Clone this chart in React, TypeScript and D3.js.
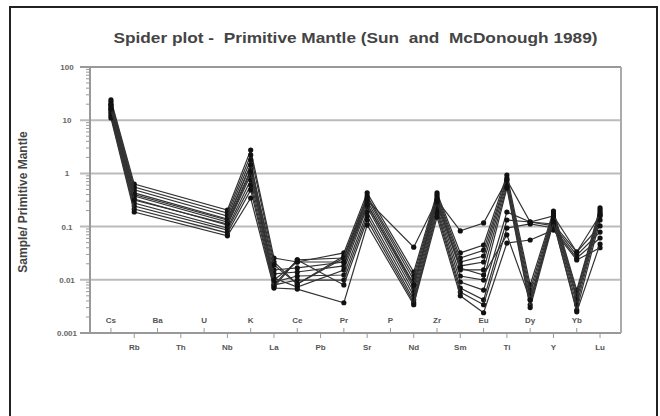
import React from 'react';
import * as d3 from 'd3';

// element order of the primitive mantle spider diagram
const elements = ['Cs', 'Rb', 'Ba', 'Th', 'U', 'Nb', 'K', 'La', 'Ce', 'Pb', 'Pr', 'Sr', 'P', 'Nd', 'Zr', 'Sm', 'Eu', 'Ti', 'Dy', 'Y', 'Yb', 'Lu'];

const yTicks = [100, 10, 1, 0.1, 0.01, 0.001];
const yTickLabels = ['100', '10', '1', '0.1', '0.01', '0.001'];

// sample / primitive mantle, null where not analysed
//                 Cs    Rb    Ba    Th    U     Nb     K     La      Ce      Pb    Pr      Sr     P     Nd      Zr     Sm      Eu      Ti     Dy      Y      Yb      Lu
const sample1 = [24, 0.63, null, null, null, 0.205, 2.75, 0.0257, 0.0216, null, 0.032, 0.43, null, 0.014, 0.43, 0.032, 0.045, 0.93, 0.008, 0.196, 0.0064, 0.224];
const sample2 = [22, 0.555, null, null, null, 0.18, 2.22, 0.0216, 0.0083, null, 0.028, 0.376, null, 0.0118, 0.393, 0.0257, 0.036, 0.82, 0.0064, 0.18, 0.0057, 0.205];
const sample3 = [20, 0.49, null, null, null, 0.158, 1.79, 0.008, 0.0236, null, 0.0257, 0.345, null, 0.0099, 0.36, 0.0216, 0.028, 0.75, 0.0052, 0.165, 0.0048, 0.188];
const sample4 = [18.5, 0.43, null, null, null, 0.139, 1.44, 0.0153, 0.0167, null, 0.0216, 0.303, null, 0.0083, 0.33, 0.0182, 0.0216, 0.66, 0.0042, 0.151, 0.0042, 0.173];
const sample5 = [16.9, 0.376, null, null, null, 0.122, 1.16, 0.0129, 0.014, null, 0.0182, 0.266, null, 0.007, 0.303, 0.0153, 0.0153, 0.58, 0.0034, 0.139, 0.0034, 0.158];
const sample6 = [15.6, 0.33, null, null, null, 0.107, 0.93, 0.0108, 0.0073, null, 0.0153, 0.233, null, 0.0059, 0.266, 0.0118, 0.0099, 0.53, 0.003, 0.122, 0.0027, 0.133];
const sample7 = [14.3, 0.278, null, null, null, 0.094, 0.75, 0.0091, 0.0118, null, 0.0123, 0.188, null, 0.005, 0.233, 0.0091, 0.0064, 0.188, 0.122, 0.112, 0.0333, 0.103];
const sample8 = [13.1, 0.244, null, null, null, 0.086, 0.6, 0.008, 0.0099, null, 0.0099, 0.158, null, 0.0042, 0.205, 0.007, 0.0042, 0.133, 0.122, 0.103, 0.029, 0.079];
const sample9 = [12, 0.214, null, null, null, 0.076, 0.49, 0.0073, 0.0236, null, 0.008, 0.133, null, 0.0037, 0.18, 0.0059, 0.0034, 0.094, 0.112, 0.094, 0.0257, 0.061];
const sample10 = [11, 0.188, null, null, null, 0.067, 0.345, 0.007, 0.0067, null, 0.0037, 0.107, null, 0.0034, 0.151, 0.005, 0.0024, 0.049, 0.056, 0.086, 0.0236, 0.04];
const sample11 = [19.3, 0.4, null, null, null, 0.133, 1.44, 0.019, 0.0083, null, 0.0257, 0.316, null, 0.041, 0.316, 0.083, 0.117, 0.75, 0.122, 0.158, 0.0333, 0.165];
const sample12 = [16.2, 0.316, null, null, null, 0.112, 1.06, 0.0099, 0.0216, null, 0.0216, 0.255, null, 0.008, 0.29, 0.0167, 0.0123, 0.07, 0.0042, 0.122, 0.0025, 0.047];

const samples = [sample1, sample2, sample3, sample4, sample5, sample6, sample7, sample8, sample9, sample10, sample11, sample12];

const W = 660;
const H = 416;
const left = 90;
const right = 621;
const top = 67;
const bottom = 333;

export default function App() {
  const x = d3.scalePoint<string>().domain(elements).range([left, right]).padding(0.9);
  const y = d3.scaleLog().domain([0.001, 100]).range([bottom, top]);

  const line = d3.line<[string, number]>()
    .x(d => x(d[0]) as number)
    .y(d => y(d[1]));

  // minor log ticks 2..9 in each decade
  const minor: number[] = [];
  for (let e = -3; e < 2; e++) {
    for (let m = 2; m <= 9; m++) minor.push(m * Math.pow(10, e));
  }

  return (
    <svg width={W} height={H} style={{ position: 'absolute', left: 0, top: 0, fontFamily: 'Arial, "Liberation Sans", sans-serif' }}>
      <rect x={0} y={0} width={W} height={H} fill="#fff" />
      <rect x={10} y={7} width={647} height={430} fill="none" stroke="#222" strokeWidth={2} />

      <text x={(left + right) / 2} y={43} textAnchor="middle" fontSize={15} fontWeight="bold" fill="#444"
        textLength={484} lengthAdjust="spacingAndGlyphs" style={{ whiteSpace: 'pre' }}>
        {'Spider plot -  Primitive Mantle (Sun  and  McDonough 1989)'}
      </text>

      <text transform={`translate(27,${(top + bottom) / 2 + 2}) rotate(-90)`} textAnchor="middle" fontSize={12} fontWeight="bold" fill="#444">
        Sample/ Primitive Mantle
      </text>

      {/* decade gridlines */}
      {yTicks.map((t, i) => (
        <g key={t}>
          <line x1={80} x2={right} y1={y(t)} y2={y(t)} stroke={i === 0 || i === yTicks.length - 1 ? '#999' : '#bbb'} strokeWidth={2} />
          <text x={67} y={y(t) + 3} textAnchor="middle" fontSize={8} fontWeight="bold" fill="#666">{yTickLabels[i]}</text>
        </g>
      ))}
      {minor.map(t => (
        <line key={t} x1={86} x2={left} y1={y(t)} y2={y(t)} stroke="#999" strokeWidth={1} />
      ))}
      <line x1={left} x2={left} y1={top} y2={bottom} stroke="#999" strokeWidth={2} />
      <line x1={right} x2={right} y1={top} y2={bottom} stroke="#aaa" strokeWidth={2} />

      {/* category ticks and labels, alternating rows */}
      {elements.map((el, i) => {
        const cx = x(el) as number;
        const inside = i % 2 === 0;
        return (
          <g key={el}>
            <line x1={cx} x2={cx} y1={inside ? bottom - 5 : bottom} y2={inside ? bottom : bottom + 5} stroke="#999" strokeWidth={1} />
            <text x={cx} y={inside ? 323 : 350} textAnchor="middle" fontSize={8} fontWeight="bold" fill="#555">{el}</text>
          </g>
        );
      })}

      {samples.map((s, k) => {
        const pts = s
          .map((v, i) => [elements[i], v] as [string, number | null])
          .filter(d => d[1] != null) as [string, number][];
        return (
          <g key={k}>
            <path d={line(pts) ?? ''} fill="none" stroke="#333" strokeWidth={1.2} />
            {pts.map(d => (
              <circle key={d[0]} cx={x(d[0])} cy={y(d[1])} r={2.6} fill="#111" />
            ))}
          </g>
        );
      })}
    </svg>
  );
}
